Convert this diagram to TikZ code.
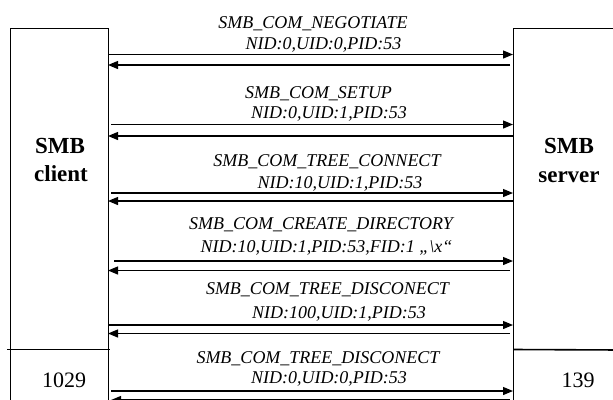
\documentclass[tikz,border=0pt]{standalone}
\usepackage{fontspec}
\setmainfont{Liberation Serif}
\usetikzlibrary{arrows.meta}
\begin{document}
\begin{tikzpicture}[x=1pt,y=-1pt,
  boxline/.style={line width=1pt,draw=black},
  msg/.style={line width=1.2pt,-{Triangle[length=10pt,width=8pt]}},
  lbl/.style={font=\fontsize{18}{20}\selectfont\itshape,anchor=base,inner sep=0pt},
  actor/.style={font=\fontsize{23}{27}\selectfont\bfseries,anchor=base,inner sep=0pt},
  num/.style={font=\fontsize{22}{26}\selectfont,anchor=base,inner sep=0pt}]
\useasboundingbox (0,0) rectangle (613,399);
% client and server lifelines
\draw[boxline] (10,420) -- (10,28) -- (108,28) -- (108,420);
\draw[boxline] (513,420) -- (513,28) -- (620,28);
\draw[boxline] (7,349.5) -- (110,349.5);
\draw[line width=1.6pt] (513,349.5) -- (620,350);
% actor labels
\node[actor] (c1) at (60,153.5) {SMB};
\node[actor] (c2) at (61,181.5) {client};
\node[actor] (s1) at (569,153.5) {SMB};
\node[actor] (s2) at (569,182) {server};
\node[num] (n1) at (64,387) {1029};
\node[num] (n2) at (578,387) {139};
% end points of messages
\coordinate (a1) at (108,54.5);   \coordinate (b1) at (513,54.5);
\coordinate (a1r) at (108,65);    \coordinate (b1r) at (510,65);
\coordinate (a2) at (111,124.5);  \coordinate (b2) at (513,124.5);
\coordinate (a2r) at (108,136);   \coordinate (b2r) at (513,136);
\coordinate (a3) at (111,193);    \coordinate (b3) at (513,193);
\coordinate (a3r) at (108,201);   \coordinate (b3r) at (513,201);
\coordinate (a4) at (114,261);    \coordinate (b4) at (513,261);
\coordinate (a4r) at (108,270.5); \coordinate (b4r) at (510,270.5);
\coordinate (a5) at (108,325);    \coordinate (b5) at (513,325);
\coordinate (a5r) at (108,333.5); \coordinate (b5r) at (510,333.5);
\coordinate (a6) at (111,391);    \coordinate (b6) at (513,391);
\coordinate (a6r) at (111,400);   \coordinate (b6r) at (510,400);
% messages
\draw[msg] (a1) -- (b1);  \draw[msg] (b1r) -- (a1r);
\draw[msg] (a2) -- (b2);  \draw[msg] (b2r) -- (a2r);
\draw[msg] (a3) -- (b3);  \draw[msg] (b3r) -- (a3r);
\draw[msg] (a4) -- (b4);  \draw[msg] (b4r) -- (a4r);
\draw[msg] (a5) -- (b5);  \draw[msg] (b5r) -- (a5r);
\draw[msg] (a6) -- (b6);  \draw[msg] (b6r) -- (a6r);
% message labels
\node[lbl] (t1a) at (313,28.5) {SMB\_COM\_NEGOTIATE};
\node[lbl] (t1b) at (323.5,49) {NID:0,UID:0,PID:53};
\node[lbl] (t2a) at (318.5,98) {SMB\_COM\_SETUP};
\node[lbl] (t2b) at (329,118) {NID:0,UID:1,PID:53};
\node[lbl] (t3a) at (327,166) {SMB\_COM\_TREE\_CONNECT};
\node[lbl] (t3b) at (340,188) {NID:10,UID:1,PID:53};
\node[lbl] (t4a) at (321,229) {SMB\_COM\_CREATE\_DIRECTORY};
\node[lbl] (t4b) at (326.5,252) {NID:10,UID:1,PID:53,FID:1 „\textbackslash x“};
\node[lbl] (t5a) at (327.5,294) {SMB\_COM\_TREE\_DISCONECT};
\node[lbl] (t5b) at (339,318) {NID:100,UID:1,PID:53};
\node[lbl] (t6a) at (318,363) {SMB\_COM\_TREE\_DISCONECT};
\node[lbl] (t6b) at (329,383) {NID:0,UID:0,PID:53};
\end{tikzpicture}
\end{document}
